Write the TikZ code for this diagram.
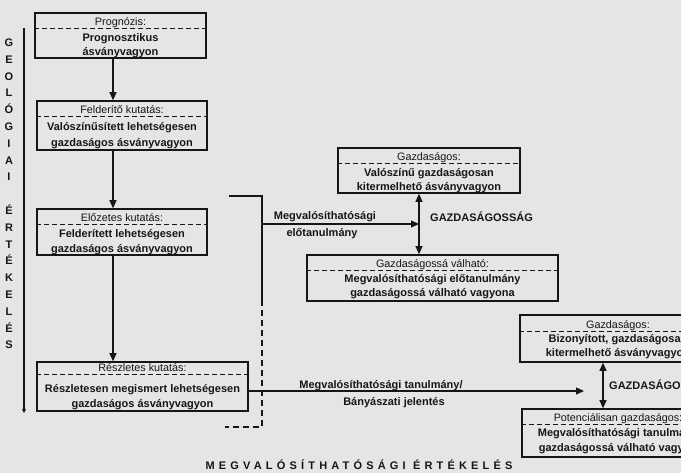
\documentclass[tikz,border=0pt]{standalone}
\usepackage{fontspec}
\setmainfont{Liberation Sans}
\usetikzlibrary{arrows.meta}
\definecolor{paper}{RGB}{229,229,227}
\definecolor{ink}{RGB}{22,22,22}
\begin{document}
\begin{tikzpicture}[x=1pt,y=-1pt,
  boxn/.style={draw=ink, line width=1.6pt, inner sep=0pt},
  sepline/.style={draw=ink, line width=1.3pt, dash pattern=on 5pt off 3pt},
  hdr/.style={inner sep=0pt, text=ink, text height=8pt, text depth=0pt, font=\fontsize{10.8}{12}\selectfont},
  bt/.style={inner sep=0pt, text=ink, text height=8pt, text depth=0pt, font=\bfseries\fontsize{11}{12}\selectfont},
  conn/.style={draw=ink, line width=1.1pt},
  arr/.style={conn, -{Triangle[length=8pt,width=7pt]}},
  darr/.style={conn, {Triangle[length=8pt,width=7pt]}-{Triangle[length=8pt,width=7pt]}}
]
\fill[paper] (0,0) rectangle (681,473);
\useasboundingbox (0,0) rectangle (681,473);

% ---- left column boxes
\node[boxn, minimum width=171pt, minimum height=45pt] (b1) at (120.5,35.5) {};
\node[hdr] (b1h) at (120.5,22) {Prognózis:};
\draw[sepline] (b1.west |- b1h.south) ++(0,2) coordinate (b1s) -- (b1.east |- b1s);
\node[bt] (b1a) at (120.5,38) {Prognosztikus};
\node[bt] (b1b) at (120.5,52) {ásványvagyon};

\node[boxn, minimum width=170pt, minimum height=49pt] (b2) at (122,125.5) {};
\node[hdr] (b2h) at (122,110) {Felderítő kutatás:};
\draw[sepline] (b2.west |- b2h.south) ++(0,2) coordinate (b2s) -- (b2.east |- b2s);
\node[bt] (b2a) at (122,127) {Valószínűsített lehetségesen};
\node[bt] (b2b) at (122,143) {gazdaságos ásványvagyon};

\node[boxn, minimum width=170pt, minimum height=46pt] (b3) at (122,232) {};
\node[hdr] (b3h) at (122,218) {Előzetes kutatás:};
\draw[sepline] (b3.west |- b3h.south) ++(0,2) coordinate (b3s) -- (b3.east |- b3s);
\node[bt] (b3a) at (122,234) {Felderített lehetségesen};
\node[bt] (b3b) at (122,249) {gazdaságos ásványvagyon};

\node[boxn, minimum width=211pt, minimum height=49pt] (b4) at (142.5,386.5) {};
\node[hdr] (b4h) at (142.5,368) {Részletes kutatás:};
\draw[sepline] (b4.west |- b4h.south) ++(0,2) coordinate (b4s) -- (b4.east |- b4s);
\node[bt] (b4a) at (142.5,388) {Részletesen megismert lehetségesen};
\node[bt] (b4b) at (142.5,403) {gazdaságos ásványvagyon};

% ---- right boxes
\node[boxn, minimum width=182pt, minimum height=45pt] (g1) at (429,170.5) {};
\node[hdr] (g1h) at (429,157) {Gazdaságos:};
\draw[sepline] (g1.west |- g1h.south) ++(0,2) coordinate (g1s) -- (g1.east |- g1s);
\node[bt] (g1a) at (429,173) {Valószínű gazdaságosan};
\node[bt] (g1b) at (429,187) {kitermelhető ásványvagyon};

\node[boxn, minimum width=251pt, minimum height=46pt] (g2) at (432.5,278) {};
\node[hdr] (g2h) at (432.5,264) {Gazdaságossá válható:};
\draw[sepline] (g2.west |- g2h.south) ++(0,2) coordinate (g2s) -- (g2.east |- g2s);
\node[bt] (g2a) at (432.5,278.5) {Megvalósíthatósági előtanulmány};
\node[bt] (g2b) at (432.5,293) {gazdaságossá válható vagyona};

\node[boxn, minimum width=196pt, minimum height=47pt] (g3) at (618,338.5) {};
\node[hdr] (g3h) at (618,325) {Gazdaságos:};
\draw[sepline] (g3.west |- g3h.south) ++(0,2) coordinate (g3s) -- (g3.east |- g3s);
\node[bt] (g3a) at (618,339) {Bizonyított, gazdaságosan};
\node[bt] (g3b) at (618,353) {kitermelhető ásványvagyon};

\node[boxn, minimum width=192pt, minimum height=48pt] (g4) at (618,433) {};
\node[hdr] (g4h) at (618,418) {Potenciálisan gazdaságos:};
\draw[sepline] (g4.west |- g4h.south) ++(0,2) coordinate (g4s) -- (g4.east |- g4s);
\node[bt] (g4a) at (618,433) {Megvalósíthatósági tanulmány};
\node[bt] (g4b) at (618,447) {gazdaságossá válható vagyon};

% ---- vertical flow arrows
\coordinate (ax) at (113,0);
\draw[arr] (b1.south -| ax) -- (b2.north -| ax);
\draw[arr] (b2.south -| ax) -- (b3.north -| ax);
\draw[arr] (b3.south -| ax) -- (b4.north -| ax);

% ---- left vertical line and letters
\coordinate (v1) at (24,28);
\coordinate (v2) at (24,413);
\draw[conn, -{Triangle[length=4pt,width=4pt]}] (v1) -- (v2);
\node[inner sep=0pt, text=ink, align=center, font=\bfseries\fontsize{11}{16.8}\selectfont] (geo) at (9,194)
  {G\\E\\O\\L\\Ó\\G\\I\\A\\I\\\strut\\É\\R\\T\\É\\K\\E\\L\\É\\S};

% ---- bracket and first horizontal arrow
\coordinate (k1) at (229,196);
\coordinate (k2) at (262,196);
\coordinate (k3) at (262,300);
\coordinate (k4) at (262,427);
\coordinate (k5) at (225,427);
\draw[conn] (k1) -- (k2) -- (k3);
\draw[conn, dash pattern=on 6pt off 4pt] (k3) -- (k4) -- (k5);

\coordinate (dx1) at (419,0);
\draw[darr] (g1.south -| dx1) -- (g2.north -| dx1);
\coordinate (a1s) at (262,224);
\coordinate (a1e) at (419,224);
\draw[arr] (a1s) -- (a1e);
\node[bt] (l1a) at (325,216) {Megvalósíthatósági};
\node[bt] (l1b) at (322,233) {előtanulmány};
\node[bt, anchor=west] (gz1) at (430,218) {GAZDASÁGOSSÁG};

% ---- bottom horizontal arrow
\coordinate (dx2) at (603,0);
\draw[darr] (g3.south -| dx2) -- (g4.north -| dx2);
\coordinate (a2e) at (584,391);
\draw[arr] (b4.east |- a2e) -- (a2e);
\node[bt] (l2a) at (381,385) {Megvalósíthatósági tanulmány/};
\node[bt] (l2b) at (394,402) {Bányászati jelentés};
\node[bt, anchor=west] (gz2) at (609,386) {GAZDASÁGOSSÁG};

% ---- caption
\node[bt, font=\bfseries\fontsize{11}{12}\selectfont\addfontfeature{LetterSpace=38}] (cap) at (359,465) {MEGVALÓSÍTHATÓSÁGI ÉRTÉKELÉS};
\end{tikzpicture}
\end{document}
